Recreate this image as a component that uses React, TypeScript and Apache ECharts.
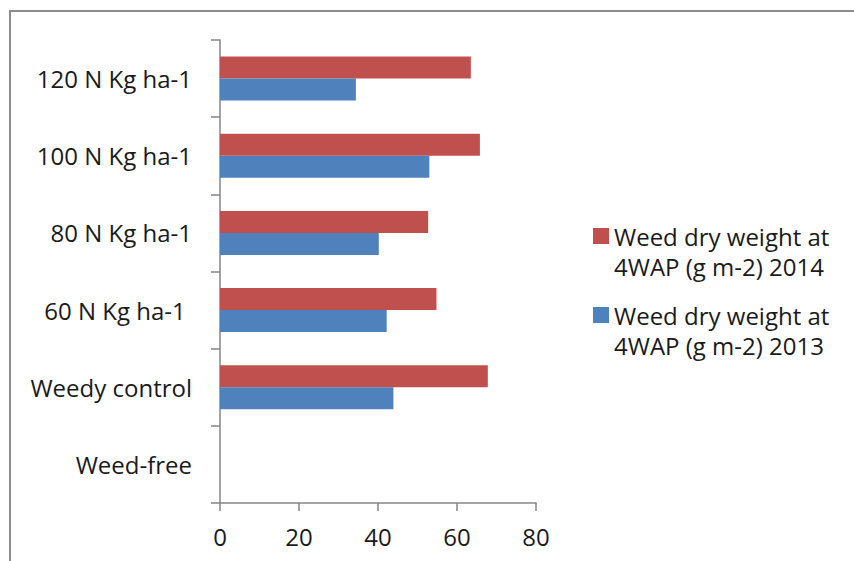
import React, { useEffect, useRef } from "react";
import * as echarts from "echarts";

// Treatments, bottom to top along the category axis
const categories = [
  "Weed-free",
  "Weedy control",
  "60 N Kg ha-1 ",
  "80 N Kg ha-1",
  "100 N Kg ha-1",
  "120 N Kg ha-1",
];

const seriesNames = [
  "Weed dry weight at\n4WAP (g m-2) 2014",
  "Weed dry weight at\n4WAP (g m-2) 2013",
];

// Weed dry weight (g m-2) at 4 weeks after planting
const dryWeight2014 = [0, 67.8, 54.8, 52.7, 65.8, 63.5];
const dryWeight2013 = [0, 43.9, 42.2, 40.2, 53.0, 34.4];

const xTicks = { min: 0, max: 80, interval: 20 };

const FONT = "Open Sans";
const FONT_SIZE = 24;
const TEXT_COLOR = "#1a1a1a";
const AXIS_GREY = "#868686";

// Legend key: a square level with the first text line, inside a 16x60 box
const LEGEND_KEY = "path://M0,7H16V23H0Z M0,0H0.01 M0,60H0.01";

export default function App() {
  const ref = useRef<HTMLDivElement>(null);

  useEffect(() => {
    document.body.style.margin = "0";
    const chart = echarts.init(ref.current!, null, { renderer: "svg" });
    chart.setOption({
      animation: false,
      backgroundColor: "#ffffff",
      textStyle: { fontFamily: FONT },
      graphic: [
        {
          type: "rect",
          shape: { x: 10, y: 11, width: 900, height: 600 },
          style: { fill: "none", stroke: "#8c8c8c", lineWidth: 2 },
          silent: true,
        },
      ],
      grid: { left: 220, right: 318, top: 40, bottom: 58, containLabel: false },
      legend: {
        orient: "vertical",
        left: 588,
        top: 216,
        itemWidth: 16,
        itemHeight: 60,
        itemGap: 19,
        icon: LEGEND_KEY,
        data: seriesNames,
        textStyle: {
          fontFamily: FONT,
          fontSize: FONT_SIZE,
          color: TEXT_COLOR,
          lineHeight: 30,
        },
      },
      xAxis: {
        type: "value",
        ...xTicks,
        splitLine: { show: false },
        axisLine: { show: true, lineStyle: { color: AXIS_GREY, width: 1.5 } },
        axisTick: { show: true, length: 8, lineStyle: { color: AXIS_GREY, width: 1.5 } },
        axisLabel: { margin: 21, fontSize: FONT_SIZE, color: TEXT_COLOR, fontFamily: FONT },
      },
      yAxis: {
        type: "category",
        data: categories,
        axisLine: { show: true, lineStyle: { color: AXIS_GREY, width: 1.5 } },
        axisTick: {
          show: true,
          length: 9,
          inside: false,
          lineStyle: { color: AXIS_GREY, width: 1.5 },
        },
        axisLabel: { margin: 28, fontSize: FONT_SIZE, color: TEXT_COLOR, fontFamily: FONT },
      },
      series: [
        {
          name: seriesNames[0],
          type: "bar",
          data: dryWeight2014,
          barWidth: 22,
          barGap: "0%",
          itemStyle: { color: "#C0504D" },
        },
        {
          name: seriesNames[1],
          type: "bar",
          data: dryWeight2013,
          barWidth: 22,
          barGap: "0%",
          itemStyle: { color: "#4F81BD" },
        },
      ],
    });
    return () => chart.dispose();
  }, []);

  return <div ref={ref} style={{ width: 854, height: 561 }} />;
}
